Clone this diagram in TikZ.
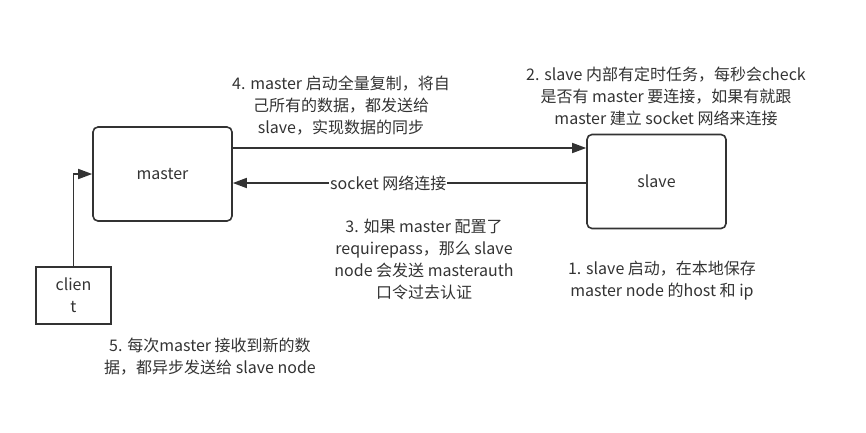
\documentclass[tikz,border=0pt]{standalone}
\usepackage{fontspec}
\setmainfont{Noto Sans CJK SC}
\usetikzlibrary{arrows.meta}

\begin{document}
\begin{tikzpicture}[x=1pt, y=-1pt, line width=1.6pt, color={black!80},
  box/.style={draw, rounded corners=5pt, minimum width=139pt, minimum height=94pt, inner sep=0pt},
  note/.style={align=center, font=\fontsize{16}{22}\selectfont, inner sep=0pt},
  flow/.style={-{Triangle[length=14pt, width=10pt]}}]

% 画布大小，按原图像素
\useasboundingbox (0,0) rectangle (866,432);

% 三个方框
\node[box, font=\fontsize{16}{22}\selectfont] (master) at (162.5, 174) {master};
\node[box, font=\fontsize{16}{22}\selectfont] (slave) at (656.5, 181.5) {slave};
\node[draw, minimum width=75pt, minimum height=57pt, inner sep=0pt, align=center,
  font=\fontsize{16}{22}\selectfont] (client) at (73.5, 295.5) {clien\\t};

% client 写入 master
\draw[flow] (client.north) |- (master.west);

% master 向 slave 复制数据
\draw[flow] ([yshift=26pt]master.east) -- ([yshift=26pt]master.east -| slave.west);

% slave 与 master 建立 socket 连接
\draw[flow] ([yshift=-1.5pt]slave.west) -- ([yshift=-1.5pt]slave.west -| master.east)
  node[pos=0.56, fill=white, inner xsep=1pt, inner ysep=0pt, font=\fontsize{16}{22}\selectfont] (sock) {socket 网络连接};

% 各步骤说明
\node[note] (t4) at (341, 106) {4. master 启动全量复制，将自\\己所有的数据，都发送给\\slave，实现数据的同步};
\node[note] (t2) at (666, 96) {2. slave 内部有定时任务，每秒会check\\是否有 master 要连接，如果有就跟\\master 建立 socket 网络来连接};
\node[note] (t3) at (424, 259) {3. 如果 master 配置了\\requirepass，那么 slave\\node 会发送 masterauth\\口令过去认证};
\node[note] (t1) at (662, 281) {1. slave 启动，在本地保存\\master node 的host 和 ip};
\node[note] (t5) at (210, 357) {5. 每次master 接收到新的数\\据，都异步发送给 slave node};

\end{tikzpicture}
\end{document}
